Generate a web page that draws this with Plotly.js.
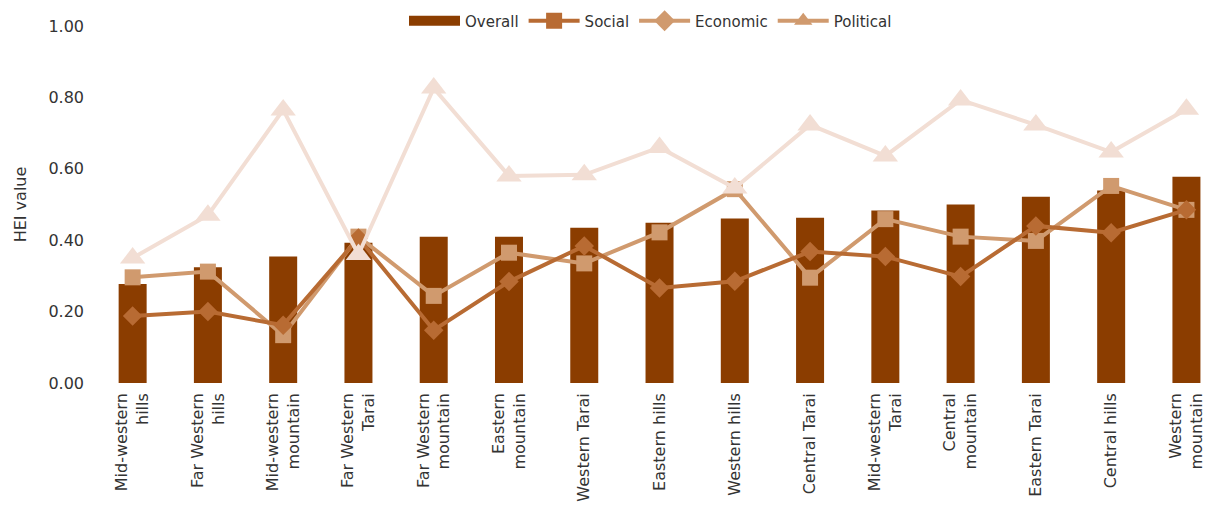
<!DOCTYPE html>
<html>
<head>
<meta charset="utf-8">
<script src="https://cdn.plot.ly/plotly-3.0.1.min.js"></script>
<style>
html,body{margin:0;padding:0;overflow:hidden;background:#fff;}
#chart{width:1206px;height:516px;}
</style>
</head>
<body>
<div id="chart"></div>
<script>
const categories = ["Mid-western<br>hills","Far Western<br>hills","Mid-western<br>mountain","Far Western<br>Tarai","Far Western<br>mountain","Eastern<br>mountain","Western Tarai","Eastern hills","Western hills","Central Tarai","Mid-western<br>Tarai","Central<br>mountain","Eastern Tarai","Central hills","Western<br>mountain"];
const overall   = [0.277,0.324,0.354,0.393,0.410,0.410,0.435,0.449,0.461,0.463,0.483,0.500,0.522,0.539,0.578];
const social    = [0.188,0.200,0.162,0.406,0.148,0.284,0.384,0.266,0.285,0.368,0.354,0.298,0.440,0.421,0.485];
const economic  = [0.296,0.312,0.134,0.410,0.244,0.365,0.335,0.422,0.543,0.295,0.459,0.410,0.398,0.552,0.485];
const political = [0.350,0.470,0.765,0.360,0.826,0.580,0.583,0.660,0.546,0.723,0.636,0.793,0.723,0.647,0.767];

const cOverall = "#8B3D00", cSocial = "#B86B33", cEconomic = "#D09A6E", cPolitical = "#F2DED4";
const idx = categories.map((_, i) => i);

const traces = [
  {type:"bar", x: idx, y: overall, name:"Overall", marker:{color:cOverall}, width:0.372, showlegend:false},
  {type:"scatter", mode:"lines+markers", x: idx, y: economic, name:"Economic", showlegend:false,
   line:{color:cEconomic, width:4}, marker:{symbol:"square", size:16, color:cEconomic}},
  {type:"scatter", mode:"lines+markers", x: idx, y: social, name:"Social", showlegend:false,
   line:{color:cSocial, width:4}, marker:{symbol:"diamond", size:15, color:cSocial}},
  {type:"scatter", mode:"lines+markers", x: idx, y: political, name:"Political", showlegend:false,
   line:{color:cPolitical, width:4}, marker:{symbol:"triangle-up", size:22, color:cPolitical}},
  // legend entries (as shown in the original legend)
  {type:"scatter", mode:"lines", x:[null], y:[null], name:"Overall", legendrank:1,
   line:{color:cOverall, width:16}},
  {type:"scatter", mode:"lines+markers", x:[null], y:[null], name:"Social", legendrank:2,
   line:{color:cSocial, width:4}, marker:{symbol:"square", size:16, color:cSocial}},
  {type:"scatter", mode:"lines+markers", x:[null], y:[null], name:"Economic", legendrank:3,
   line:{color:cEconomic, width:4}, marker:{symbol:"diamond", size:16, color:cEconomic}},
  {type:"scatter", mode:"lines+markers", x:[null], y:[null], name:"Political", legendrank:4,
   line:{color:cEconomic, width:4}, marker:{symbol:"triangle-up", size:16, color:cEconomic}}
];

const layout = {
  width:1206, height:516,
  margin:{l:95, r:0, t:26, b:133},
  paper_bgcolor:"#fff", plot_bgcolor:"#fff",
  font:{family:"DejaVu Sans, sans-serif", size:16, color:"#333"},
  showlegend:true,
  legend:{orientation:"h", x:0.5, xanchor:"center", y:1.014, yanchor:"middle",
          font:{size:15, color:"#333"}, itemwidth:51, traceorder:"normal", bgcolor:"rgba(0,0,0,0)"},
  bargap:0.6,
  xaxis:{type:"linear", range:[-0.5,14.26], tickmode:"array", tickvals:idx, ticktext:categories,
         tickangle:-90, showgrid:false, zeroline:false, showline:false, ticks:"",
         tickfont:{size:16, color:"#333"}, ticklabelstandoff:6, ticklabeloverflow:"allow",
         automargin:false, fixedrange:true},
  yaxis:{range:[0,1], tickvals:[0,0.2,0.4,0.6,0.8,1.0], tickformat:".2f",
         showgrid:false, zeroline:false, showline:false, ticks:"",
         tickfont:{size:16, color:"#333"}, ticklabelstandoff:10,
         title:{text:"HEI value", font:{size:16, color:"#333"}, standoff:17},
         automargin:false, fixedrange:true}
};

Plotly.newPlot("chart", traces, layout, {displayModeBar:false, staticPlot:true});
</script>
</body>
</html>
